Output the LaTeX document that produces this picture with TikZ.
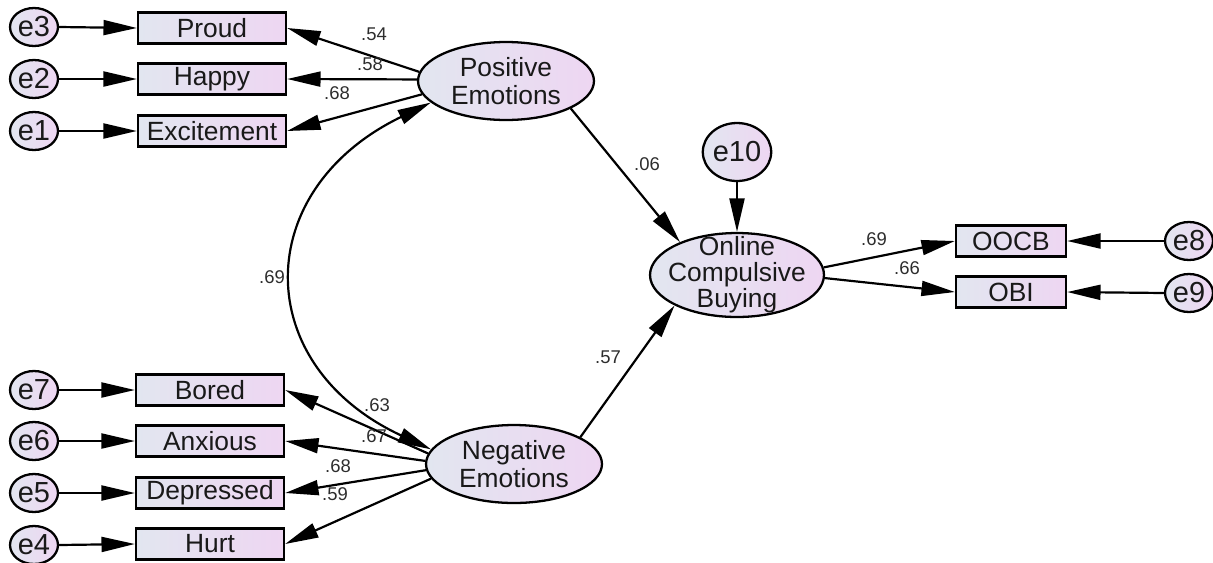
\documentclass[tikz,border=0pt]{standalone}
\usepackage{fontspec}
\setmainfont{Liberation Sans}
\usetikzlibrary{shapes.geometric,arrows.meta}
\definecolor{fillL}{RGB}{226,230,240}
\definecolor{fillR}{RGB}{238,214,242}
\definecolor{labc}{RGB}{45,45,45}
\definecolor{txt}{RGB}{25,25,25}
\begin{document}
\begin{tikzpicture}[x=0.02cm,y=-0.02cm,
  base/.style={draw=black, line width=1.3pt, inner sep=0pt, left color=fillL, right color=fillR, text=txt, font=\fontsize{15}{16}\selectfont},
  obs/.style={base, rectangle, minimum width=2.96cm, minimum height=0.62cm},
  obsr/.style={base, rectangle, minimum width=2.2cm, minimum height=0.62cm},
  err/.style={base, ellipse, minimum width=0.96cm, minimum height=0.76cm, font=\fontsize{16.5}{17}\selectfont},
  lat/.style={base, ellipse, minimum width=3.52cm, minimum height=1.56cm, align=center, font=\fontsize{15}{15.5}\selectfont},
  inner/.style={text=txt, inner sep=0pt, align=center, font=\fontsize{15}{14.8}\selectfont},
  lbl/.style={text=labc, inner sep=0pt, font=\fontsize{10.5}{12}\selectfont},
  arr/.style={-{Triangle[length=19pt,width=8.5pt]}, line width=1.25pt},
  darr/.style={{Triangle[length=19pt,width=8.5pt]}-{Triangle[length=19pt,width=8.5pt]}, line width=1.25pt}]
\useasboundingbox (0,0) rectangle (1213,562);

% error terms left
\node[err] (e3) at (34,27) {e3};
\node[err] (e2) at (34,79) {e2};
\node[err] (e1) at (34,131) {e1};
\node[err] (e7) at (34,390) {e7};
\node[err] (e6) at (34,441) {e6};
\node[err] (e5) at (34,493) {e5};
\node[err] (e4) at (34,545) {e4};

% indicators
\node[obs] (Proud) at (212,28) {Proud};
\node[obs] (Happy) at (212,79) {Happy};
\node[obs] (Excite) at (212,131) {Excitement};
\node[obs] (Bored) at (210,390) {Bored};
\node[obs] (Anxious) at (210,441) {Anxious};
\node[obs] (Depressed) at (210,493) {Depressed};
\node[obs] (Hurt) at (210,544) {Hurt};

% latent
\node[lat] (PE) at (506,81) {Positive\\Emotions};
\node[lat] (NE) at (514,464) {Negative\\Emotions};
\node[base, ellipse, minimum width=3.48cm, minimum height=1.68cm] (OCB) at (737,275) {};
\node[inner] (OCBt) at (OCB.center) {Online\\Compulsive\\Buying};
\node[err, minimum width=1.24cm, minimum height=1.16cm] (e10) at (737,152) {e10};

% right indicators
\node[obsr] (OOCB) at (1011,241) {OOCB};
\node[obsr] (OBI) at (1011,292) {OBI};
\node[err] (e8) at (1189,241) {e8};
\node[err] (e9) at (1189,293) {e9};

% error arrows
\foreach \e/\o in {e3/Proud,e2/Happy,e1/Excite,e7/Bored,e6/Anxious,e5/Depressed,e4/Hurt}
  \draw[arr] (\e.east) -- (\o.west);
\draw[arr] (e8.west) -- (OOCB.east);
\draw[arr] (e9.west) -- (OBI.east);
\draw[arr] (e10.south) -- (OCB.north);

% loadings
\draw[arr] (PE.174) -- (Proud.east);
\draw[arr] (PE.179) -- (Happy.east);
\draw[arr] (PE.189) -- (Excite.east);
\draw[arr] (NE.173) -- (Bored.east);
\draw[arr] (NE.178) -- (Anxious.east);
\draw[arr] (NE.184) -- (Depressed.east);
\draw[arr] (NE.190) -- (Hurt.east);
\draw[arr] (OCB.5) -- (OOCB.west);
\draw[arr] (OCB.-2) -- (OBI.west);

% structural paths
\draw[arr] (PE.-23) -- (OCB.150);
\draw[arr] (NE.22) -- (OCB.206);

% correlation
\draw[darr] (PE.196) .. controls (250,190) and (250,365) .. (NE.170);

% labels
\node[lbl] (l1) at (374,34) {.54};
\node[lbl] (l2) at (370,64) {.58};
\node[lbl] (l3) at (337,93) {.68};
\node[lbl] (l4) at (272,277) {.69};
\node[lbl] (l5) at (647,164) {.06};
\node[lbl] (l6) at (608,357) {.57};
\node[lbl] (l7) at (874,239) {.69};
\node[lbl] (l8) at (907,268) {.66};
\node[lbl] (l9) at (377,405) {.63};
\node[lbl] (l10) at (374,436) {.67};
\node[lbl] (l11) at (338,466) {.68};
\node[lbl] (l12) at (335,494) {.59};
\end{tikzpicture}
\end{document}
